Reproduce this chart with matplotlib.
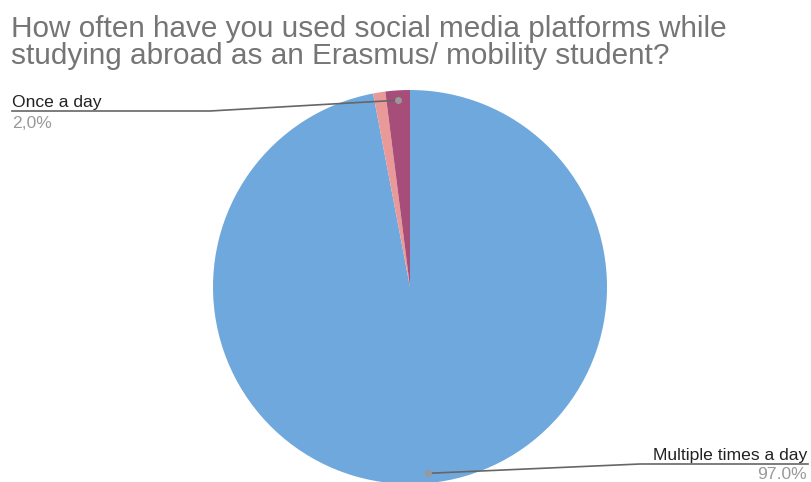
import numpy as np
import matplotlib
matplotlib.use('Agg')
import matplotlib.pyplot as plt

labels = ['Multiple times a day', 'Other', 'Once a day']
values = [97.0, 1.0, 2.0]
colors = ['#6fa8dc', '#ea9999', '#a64d79']
pct_text = ['97.0%', '1.0%', '2,0%']

plt.rcParams['font.family'] = ['Liberation Sans', 'DejaVu Sans']

W, H = 811, 482
fig = plt.figure(figsize=(W / 100, H / 100), dpi=100)
ax = fig.add_axes([0, 0, 1, 1])

cx, cy, r = 410, H - 287, 197
ax.pie(values, colors=colors, startangle=90, counterclock=False,
       center=(cx, cy), radius=r, frame=True,
       wedgeprops=dict(linewidth=0))
ax.set_xlim(0, W)
ax.set_ylim(0, H)
ax.set_aspect('equal')
ax.axis('off')

ax.text(11, H - 37, 'How often have you used social media platforms while',
        color='#757575', fontsize=21.4, ha='left', va='baseline')
ax.text(11, H - 64, 'studying abroad as an Erasmus/ mobility student?',
        color='#757575', fontsize=21.4, ha='left', va='baseline')

# slice mid angles for the leader lines
total = sum(values)
cum = np.cumsum([0] + values[:-1])
def anchor(i, f=0.95):
    mid = 90 - (cum[i] + values[i] / 2) / total * 360
    a = np.radians(mid)
    return cx + f * r * np.cos(a), cy + f * r * np.sin(a)

line_col = '#666666'
# Once a day
x0, y0 = anchor(2)
ax.plot([x0, 210, 12], [y0, H - 111, H - 111], color=line_col, lw=1.2, zorder=5)
ax.plot(x0, y0, 'o', color='#999999', ms=4, zorder=6)
ax.text(12, H - 107, labels[2], color='#222222', fontsize=12.6, ha='left', va='baseline')
ax.text(12, H - 128, pct_text[2], color='#999999', fontsize=12.6, ha='left', va='baseline')

# Multiple times a day
x1, y1 = anchor(0)
ax.plot([x1, 640, 808], [y1, H - 464, H - 464], color=line_col, lw=1.2, zorder=5)
ax.plot(x1, y1, 'o', color='#999999', ms=4, zorder=6)
ax.text(807, H - 460, labels[0], color='#222222', fontsize=12.6, ha='right', va='baseline')
ax.text(807, H - 479, pct_text[0], color='#999999', fontsize=12.6, ha='right', va='baseline')

fig.savefig('out.png', dpi=100, facecolor='white')
